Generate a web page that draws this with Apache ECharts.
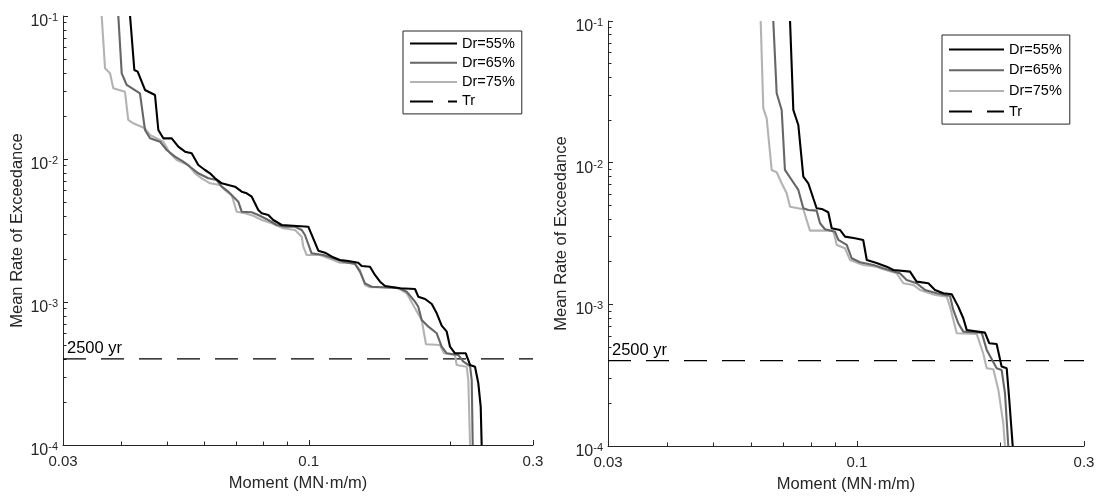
<!DOCTYPE html>
<html>
<head>
<meta charset="utf-8">
<script src="https://cdn.jsdelivr.net/npm/echarts@6/dist/echarts.min.js"></script>
<style>html,body{margin:0;padding:0;background:#fff;}#c{width:1099px;height:500px;}</style>
</head>
<body>
<div id="c"></div>
<script>
// ---- data: left panel ----
const L55x = [0.04167,0.04255,0.04325,0.04483,0.04708,0.04786,0.04904,0.05110,0.05278,0.05454,0.05635,0.05821,0.06015,0.06165,0.06318,0.06529,0.06743,0.06968,0.07200,0.07379,0.07562,0.07810,0.07942,0.08202,0.08405,0.08759,0.09977,0.1048,0.1083,0.1127,0.1165,0.1214,0.1274,0.1296,0.1350,0.1383,0.1418,0.1453,0.1563,0.1683,0.1710,0.1768,0.1827,0.1872,0.1918,0.1966,0.1998,0.2047,0.2158,0.2204,0.2258,0.2295,0.2322,0.2333];
const L55y = [0.1,0.04193,0.04080,0.03039,0.02803,0.01595,0.01395,0.01395,0.01219,0.01125,0.01096,0.009079,0.008377,0.007943,0.007328,0.006762,0.006579,0.006403,0.005906,0.005755,0.005449,0.004398,0.004171,0.004058,0.003745,0.003455,0.003362,0.002284,0.002212,0.002054,0.001967,0.001935,0.001883,0.001786,0.001766,0.001545,0.001387,0.001294,0.001247,0.001233,0.001089,0.001049,0.0009683,0.0008337,0.0006830,0.0006199,0.0004869,0.0004380,0.0004380,0.0003627,0.0003529,0.0002701,0.0001853,0.0001];
const L65x = [0.03934,0.04000,0.04099,0.04374,0.04483,0.04595,0.04826,0.04986,0.05193,0.05408,0.05588,0.05821,0.06113,0.06370,0.06529,0.06743,0.06909,0.07081,0.07200,0.07562,0.07810,0.08202,0.08548,0.08902,0.09348,0.09661,0.09817,0.1014,0.1074,0.1127,0.1185,0.1254,0.1285,0.1317,0.1361,0.1563,0.1616,0.1683,0.1710,0.1739,0.1797,0.1872,0.1918,0.1966,0.2080,0.2133,0.2204,0.2222,0.2233];
const L65y = [0.1,0.03973,0.03293,0.02880,0.01595,0.01395,0.01321,0.01156,0.01038,0.009574,0.008834,0.007943,0.007328,0.007129,0.006403,0.005906,0.005449,0.005028,0.004280,0.004239,0.004058,0.003745,0.003455,0.003362,0.003362,0.003189,0.002941,0.002191,0.002132,0.002021,0.001914,0.001844,0.001629,0.001351,0.001279,0.001247,0.001180,0.001005,0.0009271,0.0007483,0.0006721,0.0006041,0.0004869,0.0004380,0.0004261,0.0003824,0.0003568,0.0002848,0.0001];
const L75x = [0.03626,0.03686,0.03777,0.03838,0.04064,0.04130,0.04234,0.04483,0.04595,0.04904,0.05068,0.05236,0.05542,0.05728,0.05920,0.06165,0.06473,0.06690,0.06855,0.07025,0.07316,0.07621,0.07942,0.08340,0.08828,0.09348,0.09661,0.09736,0.09899,0.1057,0.1127,0.1165,0.1254,0.1285,0.1317,0.1350,0.1538,0.1616,0.1683,0.1739,0.1776,0.1902,0.1940,0.2047,0.2064,0.2168,0.2185,0.2204];
const L75y = [0.1,0.04309,0.03973,0.03122,0.02956,0.01874,0.01777,0.01640,0.01472,0.01321,0.01096,0.009840,0.009079,0.007943,0.007328,0.006762,0.006579,0.005906,0.005601,0.004280,0.004171,0.004013,0.003745,0.003551,0.003275,0.003189,0.002861,0.002436,0.002132,0.002132,0.001967,0.001883,0.001865,0.001674,0.001315,0.001267,0.001267,0.001150,0.0009035,0.0007483,0.0005061,0.0005004,0.0004380,0.0004261,0.0003627,0.0003529,0.0002848,0.0001];
// ---- data: right panel ----
const R55x = [0.07237,0.07353,0.07533,0.07717,0.07905,0.08098,0.08231,0.08435,0.08707,0.08853,0.09215,0.09441,0.09908,0.1031,0.1049,0.1100,0.1155,0.1193,0.1293,0.1335,0.1413,0.1459,0.1519,0.1582,0.1633,0.1673,0.1701,0.1858,0.1897,0.1966,0.2014,0.2064,0.2090,0.2125];
const R55y = [0.1,0.02354,0.01845,0.007965,0.007154,0.005609,0.004767,0.004714,0.004467,0.003444,0.003350,0.003004,0.002927,0.002847,0.002057,0.001960,0.001845,0.001749,0.001701,0.001446,0.001409,0.001264,0.001198,0.001179,0.0009634,0.0007977,0.0006598,0.0006316,0.0005313,0.0005252,0.0003634,0.0003540,0.0002115,0.0001];
const R65x = [0.06674,0.06784,0.06950,0.07061,0.07295,0.07533,0.07717,0.07905,0.08231,0.08366,0.08570,0.08995,0.09139,0.09519,0.09752,0.1015,0.1083,0.1136,0.1231,0.1272,0.1335,0.1390,0.1471,0.1569,0.1594,0.1633,0.1673,0.1829,0.1874,0.1966,0.2014,0.2047,0.2080];
const R65y = [0.1,0.03089,0.02354,0.008882,0.007549,0.006418,0.004767,0.004638,0.004586,0.003736,0.003388,0.003258,0.002847,0.002625,0.002115,0.001982,0.001897,0.001798,0.001658,0.001487,0.001409,0.001264,0.001198,0.001146,0.0009131,0.0007356,0.0006418,0.0006316,0.0004767,0.0003540,0.0003443,0.0002358,0.0001];
const R75x = [0.06279,0.06359,0.06464,0.06622,0.06784,0.06950,0.07120,0.07237,0.07717,0.07970,0.08922,0.09071,0.09441,0.09672,0.1031,0.1100,0.1118,0.1212,0.1252,0.1314,0.1357,0.1459,0.1544,0.1569,0.1621,0.1785,0.1842,0.1874,0.1935,0.1982,0.2030,0.2047];
const R75y = [0.1,0.02420,0.02057,0.008882,0.008555,0.007154,0.006081,0.004892,0.004690,0.003312,0.003312,0.002625,0.002488,0.002057,0.001897,0.001845,0.001798,0.001658,0.001409,0.001370,0.001264,0.001165,0.001133,0.0009634,0.0006252,0.0006181,0.0004518,0.0003540,0.0003483,0.0002498,0.0001449,0.0001];
// threshold (2500 yr return period)
const trX = [0.03, 0.3];
const trY = [0.0004, 0.0004];
const trLabel = '2500 yr';
// names and ticks
const seriesNames = ['Dr=55%', 'Dr=65%', 'Dr=75%', 'Tr'];
const xMajor = [0.03, 0.1, 0.3];
const xMinor = [0.04, 0.05, 0.06, 0.07, 0.08, 0.09, 0.2];
const yMajor = [0.0001, 0.001, 0.01, 0.1];
const yMinor = [0.0002,0.0003,0.0004,0.0005,0.0006,0.0007,0.0008,0.0009,
                0.002,0.003,0.004,0.005,0.006,0.007,0.008,0.009,
                0.02,0.03,0.04,0.05,0.06,0.07,0.08,0.09];
const xName = 'Moment (MN\u00b7m/m)';
const yName = 'Mean Rate of Exceedance';

const FONT = "'Liberation Sans', Arial, sans-serif";
const AX = '#262626';
const COLORS = ['#000000', '#666666', '#b3b3b3'];

function zip(xs, ys) { return xs.map((x, i) => [x, ys[i]]); }

const grids = [
  {left: 63, top: 16, width: 470, height: 429},
  {left: 608, top: 21, width: 476, height: 425}
];
const nameGapY = [37, 38];

const xAxis = [], yAxis = [];
grids.forEach((g, gi) => {
  xAxis.push({
    gridIndex: gi, type: 'log', logBase: 10, min: 0.03, max: 0.3, position: 'bottom',
    name: xName, nameLocation: 'middle', nameGap: 30,
    nameTextStyle: {fontFamily: FONT, fontSize: 16.5, color: AX},
    axisLine: {show: true, lineStyle: {color: AX, width: 1}},
    axisTick: {show: true, inside: true, length: 5, customValues: xMajor, lineStyle: {color: AX}},
    axisLabel: {show: true, customValues: xMajor, margin: 9, fontFamily: FONT, fontSize: 15, color: AX,
      formatter: v => String(+(+v).toPrecision(2))},
    splitLine: {show: false}, minorTick: {show: false}
  });
  xAxis.push({
    gridIndex: gi, type: 'log', logBase: 10, min: 0.03, max: 0.3, position: 'bottom', offset: 0,
    axisLine: {show: false},
    axisTick: {show: true, inside: true, length: 3.5, customValues: xMinor, lineStyle: {color: AX}},
    axisLabel: {show: false}, splitLine: {show: false}
  });
  yAxis.push({
    gridIndex: gi, type: 'log', logBase: 10, min: 0.0001, max: 0.1, position: 'left',
    name: yName, nameLocation: 'middle', nameGap: nameGapY[gi], nameRotate: 90,
    nameTextStyle: {fontFamily: FONT, fontSize: 16.5, color: AX},
    axisLine: {show: true, lineStyle: {color: AX, width: 1}},
    axisTick: {show: true, inside: true, length: 5, customValues: yMajor, lineStyle: {color: AX}},
    axisLabel: {show: true, customValues: yMajor, margin: 5, color: AX,
      fontFamily: FONT, fontSize: 16,
      padding: [10, 0, 0, 0],
      formatter: v => '{base|10}{sup|' + Math.round(Math.log10(v)) + '}',
      rich: {
        base: {fontFamily: FONT, fontSize: 16, color: AX, lineHeight: 17, verticalAlign: 'bottom'},
        sup: {fontFamily: FONT, fontSize: 11, color: AX, lineHeight: 11, verticalAlign: 'top'}
      }},
    splitLine: {show: false}
  });
  yAxis.push({
    gridIndex: gi, type: 'log', logBase: 10, min: 0.0001, max: 0.1, position: 'left', offset: 0,
    axisLine: {show: false},
    axisTick: {show: true, inside: true, length: 3.5, customValues: yMinor, lineStyle: {color: AX}},
    axisLabel: {show: false}, splitLine: {show: false}
  });
});

const panelData = [
  [zip(L55x, L55y), zip(L65x, L65y), zip(L75x, L75y)],
  [zip(R55x, R55y), zip(R65x, R65y), zip(R75x, R75y)]
];

const series = [];
panelData.forEach((pd, pi) => {
  pd.forEach((d, si) => {
    series.push({
      name: seriesNames[si], type: 'line', xAxisIndex: 2 * pi, yAxisIndex: 2 * pi,
      data: d, symbol: 'none', showSymbol: false, clip: true, z: 5 - si,
      lineStyle: {color: COLORS[si], width: 2.1},
      itemStyle: {color: 'rgba(0,0,0,0)', borderWidth: 0},
      emphasis: {disabled: true}
    });
  });
  const trData = zip(trX, trY).map((p, i) => i === 0 ? {
    value: p,
    label: {show: true, formatter: trLabel, position: [4, -19], fontFamily: FONT, fontSize: 16.5, color: '#000'}
  } : {value: p, label: {show: false}});
  series.push({
    name: seriesNames[3], type: 'line', xAxisIndex: 2 * pi, yAxisIndex: 2 * pi,
    data: trData, symbol: 'circle', symbolSize: 0, showSymbol: true, z: 1,
    lineStyle: {color: '#000', width: 1.2, type: [23, 15]},
    itemStyle: {color: 'rgba(0,0,0,0)', borderWidth: 0},
    emphasis: {disabled: true}
  });
});

const legendBase = {
  orient: 'vertical', data: seriesNames, backgroundColor: '#fff',
  borderColor: AX, borderWidth: 1, borderRadius: 0, itemHeight: 14,
  textStyle: {fontFamily: FONT, fontSize: 14.5, color: '#000'},
  itemStyle: {color: 'rgba(0,0,0,0)', borderWidth: 0},
  selectedMode: false
};
const legend = [
  Object.assign({}, legendBase, {left: 403, top: 31, itemWidth: 47, itemGap: 4.3, padding: [5, 7, 5, 6]}),
  Object.assign({}, legendBase, {left: 942, top: 35, itemWidth: 55, itemGap: 5.7, padding: [7, 8, 5, 6]})
];

const chart = echarts.init(document.getElementById('c'), null, {renderer: 'canvas'});
chart.setOption({
  animation: false,
  backgroundColor: '#fff',
  grid: grids,
  xAxis: xAxis,
  yAxis: yAxis,
  legend: legend,
  series: series
});
</script>
</body>
</html>
